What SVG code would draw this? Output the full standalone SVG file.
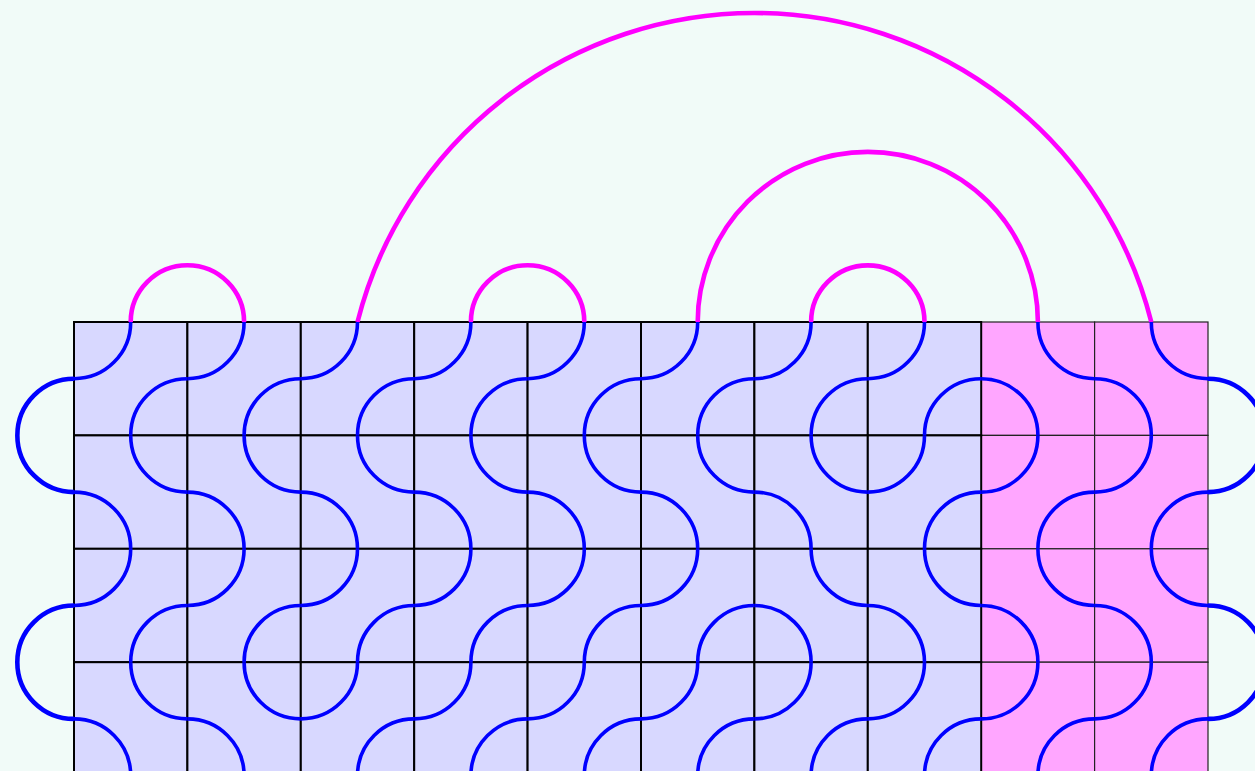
<svg xmlns="http://www.w3.org/2000/svg" xmlns:xlink="http://www.w3.org/1999/xlink" width="1255" height="771" viewBox="0 0 1255 771">
<style>
.lav{fill:#d8d8ff;stroke:#000;stroke-width:2}
.pink{fill:#ffa6ff;stroke:#222;stroke-width:1.2}
.curve{fill:none;stroke:#0000ff;stroke-width:3.6}
.outer{fill:none;stroke:#0000ff;stroke-width:4.6}
.mag{fill:none;stroke:#ff00ff;stroke-width:4.6}
</style>
<defs>
<rect id="cellL" class="lav" width="113.4" height="113.4"/>
<rect id="cellP" class="pink" width="113.4" height="113.4"/>
<path id="A" d="M56.7,0 A56.7,56.7 0 0 1 0,56.7 M113.4,56.7 A56.7,56.7 0 0 0 56.7,113.4"/>
<path id="B" d="M56.7,0 A56.7,56.7 0 0 0 113.4,56.7 M0,56.7 A56.7,56.7 0 0 1 56.7,113.4"/>
</defs>
<rect width="1255" height="771" fill="#f1fbf8"/>
<g id="tiles-pink">
<use href="#cellP" x="981.2" y="322"/><use href="#cellP" x="1094.6" y="322"/>
<use href="#cellP" x="981.2" y="435.4"/><use href="#cellP" x="1094.6" y="435.4"/>
<use href="#cellP" x="981.2" y="548.8"/><use href="#cellP" x="1094.6" y="548.8"/>
<use href="#cellP" x="981.2" y="662.2"/><use href="#cellP" x="1094.6" y="662.2"/>
</g>
<g id="tiles-lavender">
<use href="#cellL" x="74" y="322"/><use href="#cellL" x="187.4" y="322"/><use href="#cellL" x="300.8" y="322"/><use href="#cellL" x="414.2" y="322"/><use href="#cellL" x="527.6" y="322"/><use href="#cellL" x="641" y="322"/><use href="#cellL" x="754.4" y="322"/><use href="#cellL" x="867.8" y="322"/>
<use href="#cellL" x="74" y="435.4"/><use href="#cellL" x="187.4" y="435.4"/><use href="#cellL" x="300.8" y="435.4"/><use href="#cellL" x="414.2" y="435.4"/><use href="#cellL" x="527.6" y="435.4"/><use href="#cellL" x="641" y="435.4"/><use href="#cellL" x="754.4" y="435.4"/><use href="#cellL" x="867.8" y="435.4"/>
<use href="#cellL" x="74" y="548.8"/><use href="#cellL" x="187.4" y="548.8"/><use href="#cellL" x="300.8" y="548.8"/><use href="#cellL" x="414.2" y="548.8"/><use href="#cellL" x="527.6" y="548.8"/><use href="#cellL" x="641" y="548.8"/><use href="#cellL" x="754.4" y="548.8"/><use href="#cellL" x="867.8" y="548.8"/>
<use href="#cellL" x="74" y="662.2"/><use href="#cellL" x="187.4" y="662.2"/><use href="#cellL" x="300.8" y="662.2"/><use href="#cellL" x="414.2" y="662.2"/><use href="#cellL" x="527.6" y="662.2"/><use href="#cellL" x="641" y="662.2"/><use href="#cellL" x="754.4" y="662.2"/><use href="#cellL" x="867.8" y="662.2"/>
</g>
<g id="magenta-arcs" class="mag">
<path d="M130.7,322 A56.7,56.7 0 0 1 244.1,322"/>
<path d="M357.5,322 A409.4,409.4 0 0 1 1151.3,322"/>
<path d="M470.9,322 A56.7,56.7 0 0 1 584.3,322"/>
<path d="M697.7,322 A170.1,170.1 0 0 1 1037.9,322"/>
<path d="M811.1,322 A56.7,56.7 0 0 1 924.5,322"/>
</g>
<g id="connectors" class="curve">
<use href="#A" x="74" y="322"/><use href="#A" x="187.4" y="322"/><use href="#A" x="300.8" y="322"/><use href="#A" x="414.2" y="322"/><use href="#A" x="527.6" y="322"/><use href="#A" x="641" y="322"/><use href="#A" x="754.4" y="322"/><use href="#A" x="867.8" y="322"/><use href="#B" x="981.2" y="322"/><use href="#B" x="1094.6" y="322"/>
<use href="#B" x="74" y="435.4"/><use href="#B" x="187.4" y="435.4"/><use href="#B" x="300.8" y="435.4"/><use href="#B" x="414.2" y="435.4"/><use href="#B" x="527.6" y="435.4"/><use href="#B" x="641" y="435.4"/><use href="#B" x="754.4" y="435.4"/><use href="#A" x="867.8" y="435.4"/><use href="#A" x="981.2" y="435.4"/><use href="#A" x="1094.6" y="435.4"/>
<use href="#A" x="74" y="548.8"/><use href="#A" x="187.4" y="548.8"/><use href="#A" x="300.8" y="548.8"/><use href="#A" x="414.2" y="548.8"/><use href="#A" x="527.6" y="548.8"/><use href="#A" x="641" y="548.8"/><use href="#B" x="754.4" y="548.8"/><use href="#B" x="867.8" y="548.8"/><use href="#B" x="981.2" y="548.8"/><use href="#B" x="1094.6" y="548.8"/>
<use href="#B" x="74" y="662.2"/><use href="#B" x="187.4" y="662.2"/><use href="#A" x="300.8" y="662.2"/><use href="#A" x="414.2" y="662.2"/><use href="#A" x="527.6" y="662.2"/><use href="#A" x="641" y="662.2"/><use href="#A" x="754.4" y="662.2"/><use href="#A" x="867.8" y="662.2"/><use href="#A" x="981.2" y="662.2"/><use href="#A" x="1094.6" y="662.2"/>
</g>
<g id="outer-loops" class="outer">
<path d="M74,378.7 A56.7,56.7 0 0 0 74,492.1"/>
<path d="M74,605.5 A56.7,56.7 0 0 0 74,718.9"/>
<path d="M1208,378.7 A56.7,56.7 0 0 1 1208,492.1"/>
<path d="M1208,605.5 A56.7,56.7 0 0 1 1208,718.9"/>
</g>
</svg>
